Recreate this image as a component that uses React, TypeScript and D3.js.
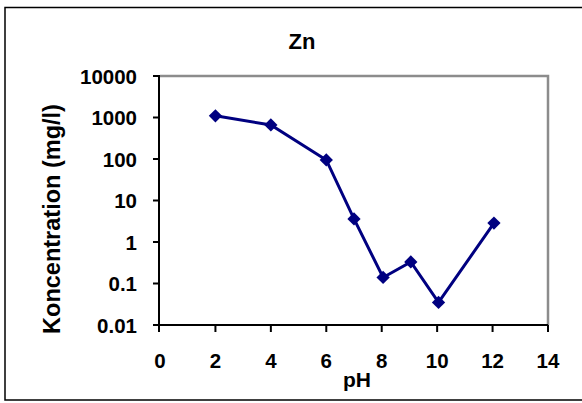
import React from "react";
import * as d3 from "d3";

const title = "Zn";
const xLabel = "pH";
const yLabel = "Koncentration (mg/l)";
const pH = [2, 4, 6, 7, 8.05, 9.05, 10.05, 12.05];
const concentration = [1100, 660, 95, 3.6, 0.14, 0.33, 0.035, 2.85];
const xTicks = [0, 2, 4, 6, 8, 10, 12, 14];
const yTicks = [0.01, 0.1, 1, 10, 100, 1000, 10000];
const yTickLabels = ["0.01", "0.1", "1", "10", "100", "1000", "10000"];

const W = 582;
const H = 403;
const plot = { left: 160, right: 548, top: 76, bottom: 325 };
const font = "'Liberation Sans', Arial, Helvetica, sans-serif";
const navy = "#000080";

export default function App() {
  const x = d3.scaleLinear().domain([0, 14]).range([plot.left, plot.right]);
  const y = d3.scaleLog().domain([0.01, 10000]).range([plot.bottom, plot.top]);
  const pts = pH.map((p, i) => [p, concentration[i]] as [number, number]);
  const line = d3
    .line<[number, number]>()
    .x((d) => x(d[0]))
    .y((d) => y(d[1]));
  const diamond = d3.symbol().type(d3.symbolSquare).size(88)() as string;

  return (
    <svg
      width={W}
      height={H}
      style={{ position: "absolute", left: 0, top: 0, background: "#fff" }}
      fontFamily={font}
      fontWeight="bold"
    >
      <rect x={0} y={0} width={W} height={H} fill="#fff" />
      <rect x={5} y={7.5} width={W + 10} height={392.5} fill="none" stroke="#000" strokeWidth={1.5} />
      <text x={302} y={49} textAnchor="middle" fontSize={22}>
        {title}
      </text>
      {/* plot frame: gray top/right */}
      <path
        d={`M${plot.left},${plot.top}H${plot.right}V${plot.bottom}`}
        fill="none"
        stroke="#8c8c8c"
        strokeWidth={2.5}
      />
      {/* axes */}
      <line x1={plot.left - 1} x2={plot.left - 1} y1={plot.top} y2={plot.bottom + 1} stroke="#000" strokeWidth={2} />
      <line x1={plot.left - 1} x2={plot.right} y1={plot.bottom} y2={plot.bottom} stroke="#000" strokeWidth={2} />
      {yTicks.map((t, i) => (
        <g key={"y" + t}>
          <line x1={plot.left - 7} x2={plot.left} y1={y(t)} y2={y(t)} stroke="#000" strokeWidth={2} />
          <text x={137} y={y(t) + 7.5} textAnchor="end" fontSize={20.5}>
            {yTickLabels[i]}
          </text>
        </g>
      ))}
      {xTicks.map((t) => (
        <g key={"x" + t}>
          <line x1={x(t) - (t === 0 ? 1 : 0)} x2={x(t) - (t === 0 ? 1 : 0)} y1={plot.bottom} y2={plot.bottom + 7} stroke="#000" strokeWidth={2} />
          <text x={x(t)} y={367.5} textAnchor="middle" fontSize={20.5}>
            {t}
          </text>
        </g>
      ))}
      <text x={357} y={387} textAnchor="middle" fontSize={21}>
        {xLabel}
      </text>
      <text
        transform={`translate(59.5,219) rotate(-90)`}
        textAnchor="middle"
        fontSize={23.5}
      >
        {yLabel}
      </text>
      <path d={line(pts) || ""} fill="none" stroke={navy} strokeWidth={3} />
      {pts.map((d, i) => (
        <path
          key={i}
          d={diamond}
          transform={`translate(${x(d[0])},${y(d[1])}) rotate(45)`}
          fill={navy}
        />
      ))}
    </svg>
  );
}
